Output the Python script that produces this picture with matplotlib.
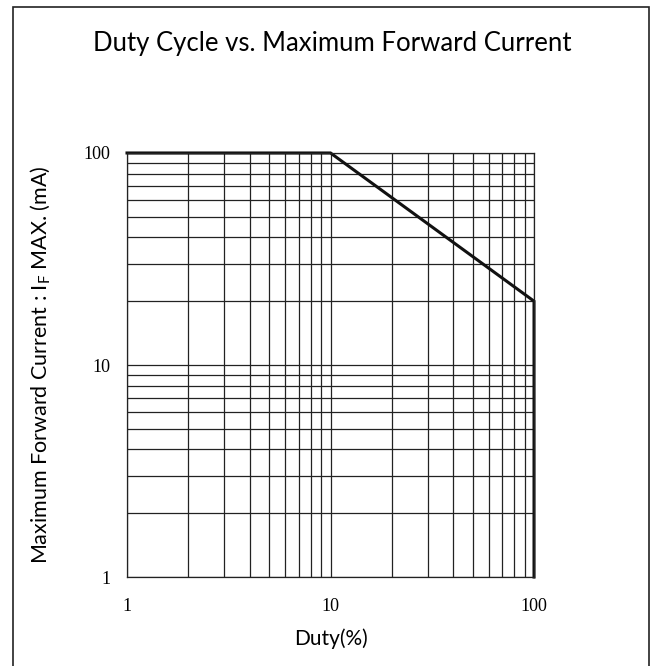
import matplotlib
matplotlib.use("Agg")
import matplotlib.pyplot as plt
from matplotlib.patches import Rectangle
from matplotlib.ticker import FixedLocator, NullFormatter, LogLocator

# Derating curve
duty = [1, 10, 100, 100]
current = [100, 100, 20, 1]
tick_vals = [1, 10, 100]
tick_labels = ["1", "10", "100"]

plt.rcParams["mathtext.fontset"] = "custom"
plt.rcParams["mathtext.rm"] = "Lato"

fig = plt.figure(figsize=(6.51, 6.66), dpi=100)
ax = fig.add_axes([0.1951, 0.1336, 0.6252, 0.6367])

ax.set_xscale("log")
ax.set_yscale("log")
ax.set_xlim(1, 100)
ax.set_ylim(1, 100)

ax.xaxis.set_major_locator(FixedLocator(tick_vals))
ax.yaxis.set_major_locator(FixedLocator(tick_vals))
ax.xaxis.set_minor_locator(LogLocator(base=10, subs=range(2, 10)))
ax.yaxis.set_minor_locator(LogLocator(base=10, subs=range(2, 10)))
ax.xaxis.set_minor_formatter(NullFormatter())
ax.yaxis.set_minor_formatter(NullFormatter())
ax.set_xticklabels(tick_labels, family="Liberation Serif", fontsize=13)
ax.set_yticklabels(tick_labels, family="Liberation Serif", fontsize=13)
ax.tick_params(which="both", length=0)
ax.tick_params(axis="x", pad=15)
ax.tick_params(axis="y", pad=12)

ax.grid(True, which="both", color="#222222", linewidth=0.9)
for sp in ax.spines.values():
    sp.set_color("#222222")
    sp.set_linewidth(0.9)

ax.plot(duty, current, color="#111111", linewidth=2.2,
        solid_joinstyle="miter", clip_on=False)

ax.set_xlabel("Duty(%)", family="Lato", fontsize=15, labelpad=10)
ax.set_ylabel(r"Maximum Forward Current : I$_\mathrm{F}$ MAX. (mA)",
              family="Lato", fontsize=15.5, labelpad=22)

fig.text(0.51, 0.935, "Duty Cycle vs. Maximum Forward Current",
         ha="center", va="center", family="Lato", fontsize=18.5)

fig.patches.append(Rectangle((13 / 651, -0.01), 636 / 651, 1 - 7 / 666 + 0.01,
                             transform=fig.transFigure, fill=False,
                             edgecolor="#222222", linewidth=1.2))

fig.savefig("out.png", dpi=100)
